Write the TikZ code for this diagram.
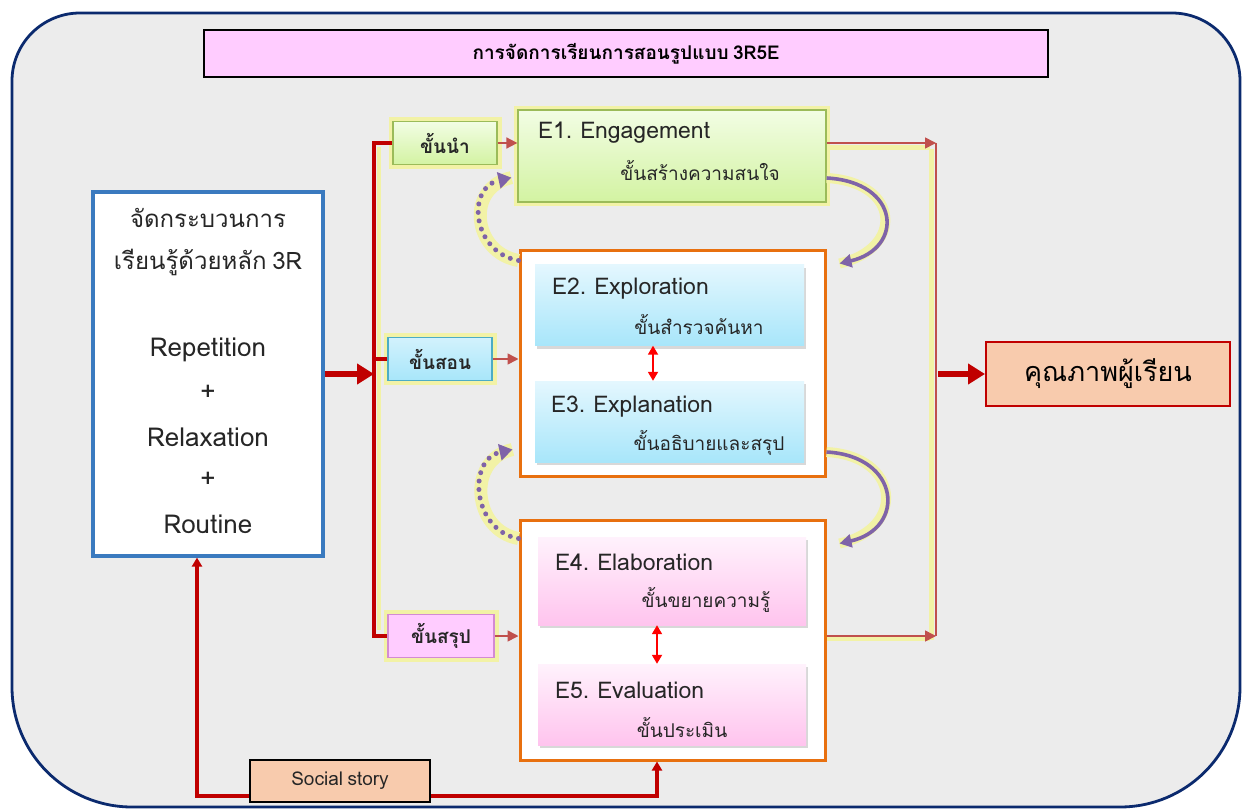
\documentclass[tikz,border=0pt]{standalone}
\usepackage{fontspec}
\setmainfont[Script=Thai, WordSpace=0.7]{Loma}
\usetikzlibrary{arrows.meta,shadows,calc}
\definecolor{navy}{HTML}{0B2A6E}
\definecolor{bgg}{HTML}{ECECEC}
\definecolor{ttlpink}{HTML}{FFCCFF}
\definecolor{lblue}{HTML}{3A7ABF}
\definecolor{redc}{HTML}{C00000}
\definecolor{redt}{HTML}{C0504D}
\definecolor{glow}{HTML}{F2F2A6}
\definecolor{purp}{HTML}{7F63A8}
\definecolor{orng}{HTML}{E8700F}
\definecolor{resf}{HTML}{F8CBAD}
\definecolor{txt}{HTML}{262626}
\definecolor{gtop}{HTML}{F2FDE4}
\definecolor{gbot}{HTML}{D3F3A2}
\definecolor{gbrd}{HTML}{9BBB59}
\definecolor{btop}{HTML}{E4F7FE}
\definecolor{bbot}{HTML}{A8E6FA}
\definecolor{bbrd}{HTML}{4BACC6}
\definecolor{ptop}{HTML}{FFF2FC}
\definecolor{pbot}{HTML}{FFC4EE}
\definecolor{pbrd}{HTML}{D38BD3}
\begin{document}
\begin{tikzpicture}[x=1pt,y=-1pt,
  fsz/.style={font=\fontsize{#1}{#1}\selectfont},
  fszb/.style={font=\fontsize{#1}{#1}\selectfont\bfseries},
  txtc/.style={text=txt, inner sep=0pt},
  stepbox/.style={draw=#1, line width=1.2, minimum width=104, minimum height=43,
    preaction={draw=glow, line width=9}, fszb=19, text=txt, inner sep=0pt},
  ebox/.style={minimum width=269, minimum height=81, inner sep=0pt,
    drop shadow={opacity=0.3, shadow xshift=2pt, shadow yshift=-3pt}},
  obox/.style={draw=orng, line width=3, fill=white, minimum width=305, inner sep=0pt},
  etitle/.style={txtc, fsz=23, anchor=west},
  esub/.style={txtc, fsz=19},
  redln/.style={draw=redc, line width=3.4},
  thinar/.style={draw=redt, line width=1.6, -{Triangle[width=11pt,length=11pt]}},
  bigar/.style={draw=redc, line width=6, -{Triangle[width=20pt,length=17pt]}},
  dblar/.style={draw=red, line width=1.8, {Triangle[width=10pt,length=9pt]}-{Triangle[width=10pt,length=9pt]}},
  purpsolid/.style={draw=purp, line width=3.6, -{Triangle[width=13pt,length=12pt]},
    preaction={draw=glow, line width=10, -}},
  purpdot/.style={draw=purp, line width=5, line cap=round, dash pattern=on 0pt off 8.5pt,
    -{Triangle[width=16pt,length=13pt,line cap=butt]},
    preaction={draw=glow, line width=13, solid, -}},
]
\useasboundingbox (0,0) rectangle (1246,810);
% outer frame
\draw[draw=navy, line width=2.8, fill=bgg]
  (12,450) [rounded corners=68] -- (12,13) -- (1240,13) -- (1240,300)
  [rounded corners=120] -- (1240,807) -- (12,807) -- (12,450) -- cycle;

% title
\node[draw=black, line width=1.6, fill=ttlpink, minimum width=844, minimum height=47,
  fszb=19, text=black] (ttl) at (626,53.5) {การจัดการเรียนการสอนรูปแบบ 3R5E};

% left box
\node[draw=lblue, line width=3.2, fill=white, minimum width=230, minimum height=364] (lbox) at (208,374) {};
\node[txtc, fsz=24] (l1) at (208,218) {จัดกระบวนการ};
\node[txtc, fsz=24] (l2) at (208,262) {เรียนรู้ด้วยหลัก 3R};
\node[txtc, fsz=26] (l3) at (208,350) {Repetition};
\node[txtc, fsz=26] (l4) at (208,393) {+};
\node[txtc, fsz=26] (l5) at (208,437) {Relaxation};
\node[txtc, fsz=26] (l6) at (208,480) {+};
\node[txtc, fsz=26] (l7) at (208,524) {Routine};

% glow strips along brackets
\coordinate (lvx) at (374,0);
\coordinate (rvx) at (936,0);
\draw[glow, line width=4] ([xshift=4.5pt]lvx |- 0,147) -- ([xshift=4.5pt]lvx |- 0,630);
\draw[glow, line width=5] ([xshift=-5pt]rvx |- 0,149) -- ([xshift=-5pt]rvx |- 0,640);
\draw[glow, line width=5] (826,148) -- (930,148);
\draw[glow, line width=5] (826,638) -- (930,638);

% step boxes
\node[stepbox=gbrd, top color=gtop, bottom color=gbot] (s1) at (445,143) {ขั้นนำ};
\node[stepbox=bbrd, top color=btop!70!bbot, bottom color=bbot] (s2) at (440,359) {ขั้นสอน};
\node[stepbox=pbrd, fill=ttlpink, minimum width=106] (s3) at (441,636) {ขั้นสรุป};

% E1
\node[draw=gbrd, line width=1.2, top color=gtop, bottom color=gbot, minimum width=308,
  minimum height=92, preaction={draw=glow, line width=8}] (e1) at (672,156) {};
\node[etitle] (e1a) at (538,133) {E1. Engagement};
\node[esub] (e1b) at (700,170) {ขั้นสร้างความสนใจ};

% orange group 1
\node[obox, minimum height=226] (o1) at (672.5,363) {};
\node[ebox, top color=btop, bottom color=bbot] (e2) at (669.5,305) {};
\node[ebox, top color=btop, bottom color=bbot] (e3) at (669.5,421.5) {};
\node[etitle] (e2a) at (552,289) {E2. Exploration};
\node[esub] (e2b) at (699,324) {ขั้นสำรวจค้นหา};
\node[etitle] (e3a) at (551,407) {E3. Explanation};
\node[esub] (e3b) at (709,443) {ขั้นอธิบายและสรุป};
\draw[dblar] ([xshift=-16.5pt]e2.south) -- ([xshift=-16.5pt]e3.north);

% orange group 2
\node[obox, minimum height=240] (o2) at (672.5,640) {};
\node[ebox, top color=ptop, bottom color=pbot, minimum width=268, minimum height=88] (e4) at (672,581) {};
\node[ebox, top color=ptop, bottom color=pbot, minimum width=268] (e5) at (672,704.5) {};
\node[etitle] (e4a) at (555,562) {E4. Elaboration};
\node[esub] (e4b) at (706,600) {ขั้นขยายความรู้};
\node[etitle] (e5a) at (555,690) {E5. Evaluation};
\node[esub] (e5b) at (682,727) {ขั้นประเมิน};
\draw[dblar] ([xshift=-15pt]e4.south) -- ([xshift=-15pt]e5.north);

% result
\node[draw=redc, line width=2, fill=resf, minimum width=244, minimum height=64,
  fsz=27, text=black] (res) at (1108,374) {คุณภาพผู้เรียน};

% social story
\node[draw=black, line width=1.8, fill=resf, minimum width=180, minimum height=42,
  fsz=19, text=txt] (ss) at (340,781) {Social story};

% left bracket
\draw[redln] (s1.west) -- (s1.west -| lvx) -- (s3.west -| lvx) -- (s3.west);
\draw[redln] (s2.west -| lvx) -- (s2.west);
\draw[bigar] (lbox.east) -- (lbox.east -| lvx);

% step -> E arrows
\draw[thinar] (s1.east) -- (s1.east -| e1.west);
\draw[thinar] (s2.east) -- (s2.east -| o1.west);
\draw[thinar] (s3.east) -- (s3.east -| o2.west);

% right bracket
\draw[thinar] (s1.east -| e1.east) -- (s1.east -| rvx);
\draw[draw=redt, line width=2.2] (s1.east -| rvx) -- (s3.east -| rvx);
\draw[thinar] (s3.east -| o2.east) -- (s3.east -| rvx);
\draw[bigar] ([xshift=2pt]res.west -| rvx) -- (res.west);

% purple solid arcs
\draw[purpsolid] ([yshift=-22pt]e1.east) .. controls +(74,4) and +(65,-15) .. ([xshift=13pt,yshift=-15pt]o1.north east);
\draw[purpsolid] ([yshift=-89pt]o1.east) .. controls +(74,4) and +(67,-15) .. ([xshift=13pt,yshift=-25pt]o2.north east);

% purple dotted arcs
\draw[purpdot] ([yshift=-12pt]o1.north west) .. controls +(-46,-8) and +(-46,10) .. ([xshift=-6pt,yshift=25pt]e1.south west);
\draw[purpdot] ([yshift=-20pt]o2.north west) .. controls +(-46,-8) and +(-46,10) .. ([xshift=-6pt,yshift=28pt]o1.south west);

% social story connectors
\draw[redln, -{Triangle[width=10pt,length=9pt]}] ([yshift=-15pt]ss.west) -| ([xshift=-11pt]lbox.south);
\draw[redln, -{Triangle[width=10pt,length=9pt]}] ([yshift=-15pt]ss.east) -| ([xshift=-15.5pt]o2.south);
\end{tikzpicture}
\end{document}
